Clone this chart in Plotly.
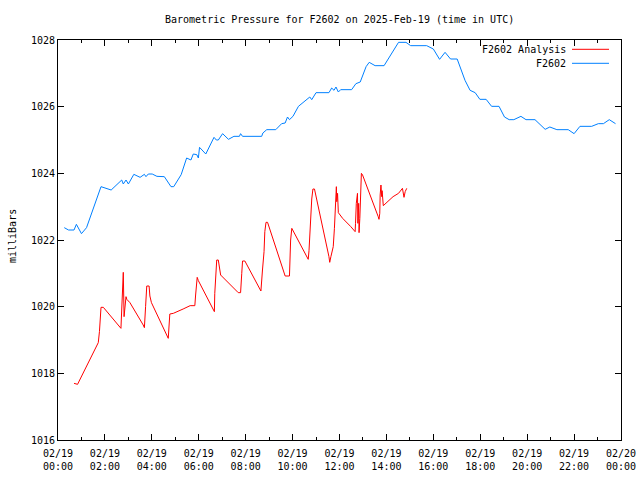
import plotly.graph_objects as go

DAY = "2025-02-19"

# F2602 observed pressure (blue)
obs_times = ["00:16","00:27","00:41","00:47","01:00","01:13","01:50","02:01","02:16","02:43",
             "02:47","02:54","03:00","03:14","03:30","03:41","03:45","03:51","04:01","04:13",
             "04:32","04:49","04:56","05:15","05:29","05:40","05:46","05:55","05:59","06:02",
             "06:18","06:39","06:45","06:50","07:01","07:16","07:30","07:44","07:47","07:52",
             "08:41","08:44","08:54","09:17","09:32","09:41","09:47","09:52","10:01","10:15",
             "10:32","10:44","10:49","11:00","11:33","11:40","11:46","11:51","11:57","12:03",
             "12:31","12:42","12:53","13:08","13:16","13:31","13:54","14:09","14:31","14:50",
             "15:02","15:43","16:00","16:16","16:30","16:44","17:01","17:21","17:34","17:47",
             "17:59","18:15","18:29","18:48","19:02","19:14","19:26","19:44","19:57","20:20",
             "20:46","20:58","21:16","21:45","22:00","22:15","22:45","23:02","23:15","23:30",
             "23:46"]
obs_values = [1022.37,1022.30,1022.30,1022.47,1022.19,1022.37,1023.60,1023.56,1023.50,1023.80,
              1023.68,1023.80,1023.68,1023.97,1023.88,1023.97,1023.90,1023.98,1023.98,1023.91,
              1023.90,1023.60,1023.60,1023.96,1024.46,1024.40,1024.58,1024.56,1024.46,1024.78,
              1024.58,1025.08,1025.00,1025.00,1025.19,1025.02,1025.11,1025.11,1025.19,1025.11,
              1025.11,1025.21,1025.31,1025.31,1025.49,1025.51,1025.69,1025.61,1025.71,1026.01,
              1026.17,1026.29,1026.21,1026.42,1026.42,1026.56,1026.49,1026.59,1026.44,1026.51,
              1026.51,1026.69,1026.74,1027.20,1027.33,1027.23,1027.23,1027.50,1027.93,1027.93,
              1027.83,1027.83,1027.73,1027.42,1027.63,1027.43,1027.43,1026.79,1026.49,1026.42,
              1026.22,1026.22,1026.01,1026.01,1025.69,1025.61,1025.61,1025.71,1025.61,1025.61,
              1025.32,1025.39,1025.31,1025.31,1025.19,1025.41,1025.41,1025.49,1025.49,1025.61,
              1025.49]

# F2602 Analysis pressure (red)
ana_times = ["00:41","00:50","01:43","01:46","01:50","01:56","02:41","02:43","02:45","02:47",
             "02:49","02:52","02:54","02:56","03:04","03:38","03:41","03:44","03:47","03:53",
             "03:55","03:59","04:42","04:44","04:46","04:55","05:08","05:20","05:38","05:50",
             "05:52","05:56","05:59","06:40","06:41","06:43","06:46","06:50","06:56","07:41",
             "07:47","07:50","07:52","07:58","08:11","08:39","08:43","08:47","08:49","08:52",
             "08:56","09:41","09:52","09:53","09:55","09:58","10:14","10:38","10:40","10:42",
             "10:44","10:46","10:49","10:52","10:56","11:33","11:35","11:38","11:44","11:47",
             "11:50","11:52","11:53","11:55","11:57","12:08","12:29","12:40","12:41","12:43",
             "12:46","12:47","12:49","12:50","12:52","12:54","12:56","12:59","13:14","13:39",
             "13:41","13:43","13:44","13:46","13:48","13:49","13:52","14:01","14:17","14:31",
             "14:41","14:45","14:48","14:52"]
ana_values = [1017.70,1017.67,1018.92,1019.25,1019.98,1019.98,1019.35,1019.78,1020.62,1021.03,
              1019.70,1020.15,1020.30,1020.22,1020.12,1019.45,1019.37,1020.00,1020.62,1020.62,
              1020.32,1020.12,1019.05,1019.42,1019.78,1019.80,1019.88,1019.93,1020.03,1020.03,
              1020.35,1020.88,1020.78,1019.85,1020.40,1021.00,1021.40,1021.40,1020.95,1020.42,
              1020.42,1021.00,1021.37,1021.37,1021.07,1020.47,1021.10,1021.65,1022.25,1022.53,
              1022.53,1020.92,1020.92,1021.28,1022.00,1022.35,1022.00,1021.48,1021.42,1021.68,
              1022.15,1022.67,1023.23,1023.53,1023.53,1021.50,1021.33,1021.50,1021.80,1022.35,
              1022.90,1023.60,1023.15,1023.40,1022.82,1022.65,1022.40,1022.25,1022.50,1023.10,
              1023.40,1022.50,1023.10,1022.22,1022.65,1023.55,1024.00,1023.95,1023.50,1022.70,
              1022.62,1022.80,1023.35,1023.65,1023.30,1023.48,1023.03,1023.12,1023.30,1023.40,
              1023.55,1023.28,1023.45,1023.55]

y_ticks = [1016, 1018, 1020, 1022, 1024, 1026, 1028]
series_names = ["F2602 Analysis", "F2602"]
series_colors = ["#ff0000", "#0080ff"]

FONT = "DejaVu Sans Mono"

fig = go.Figure()
fig.add_trace(go.Scatter(x=[f"{DAY} {t}" for t in ana_times], y=ana_values, mode="lines",
                         name=series_names[0], line=dict(color=series_colors[0], width=1)))
fig.add_trace(go.Scatter(x=[f"{DAY} {t}" for t in obs_times], y=obs_values, mode="lines",
                         name=series_names[1], line=dict(color=series_colors[1], width=1)))

fig.update_layout(
    width=640, height=480,
    margin=dict(l=58, r=19, t=40, b=40),
    paper_bgcolor="white", plot_bgcolor="white",
    showlegend=False,
    font=dict(family=FONT, size=10, color="black"),
)
fig.update_xaxes(
    type="date", range=[f"{DAY} 00:00", "2025-02-20 00:00"],
    dtick=7200000, tick0=f"{DAY} 00:00", tickformat="%m/%d<br>%H:%M",
    ticks="inside", ticklen=6, tickcolor="black", tickwidth=1,
    minor=dict(dtick=3600000, ticks="inside", ticklen=3, tickcolor="black", tickwidth=1, showgrid=False),
    showline=True, linecolor="black", linewidth=1, mirror="ticks",
    showgrid=False, zeroline=False, automargin=False, ticklabelstandoff=4,
    tickfont=dict(family=FONT, size=10),
)
fig.update_yaxes(
    range=[y_ticks[0], y_ticks[-1]], tickvals=y_ticks, ticktext=[str(v) for v in y_ticks],
    ticks="inside", ticklen=6, tickcolor="black", tickwidth=1,
    showline=True, linecolor="black", linewidth=1, mirror="ticks",
    showgrid=False, zeroline=False, automargin=False,
    tickfont=dict(family=FONT, size=10),
)

# Title and axis label
fig.add_annotation(text="Barometric Pressure for F2602 on 2025-Feb-19 (time in UTC)",
                   xref="paper", yref="paper", x=0.5, y=1 + 21 / 400, xanchor="center",
                   yanchor="middle", showarrow=False, font=dict(family=FONT, size=10))
fig.add_annotation(text="milliBars", xref="paper", yref="paper", x=-46 / 563, y=0.5 + 4 / 400,
                   xanchor="center", yanchor="middle", textangle=-90, showarrow=False,
                   font=dict(family=FONT, size=10))

# Legend (gnuplot style: text right-aligned, sample on the right)
leg_y = [1 - 9.3 / 400, 1 - 23.3 / 400]
for name, color, ly in zip(series_names, series_colors, leg_y):
    fig.add_annotation(text=name, xref="paper", yref="paper", x=(568 - 58) / 563, y=ly,
                       xanchor="right", yanchor="middle", showarrow=False,
                       font=dict(family=FONT, size=10))
    fig.add_shape(type="line", xref="paper", yref="paper", x0=(572 - 58) / 563, x1=(609 - 58) / 563,
                  y0=ly, y1=ly, line=dict(color=color, width=1))

fig.write_html("out.html")
